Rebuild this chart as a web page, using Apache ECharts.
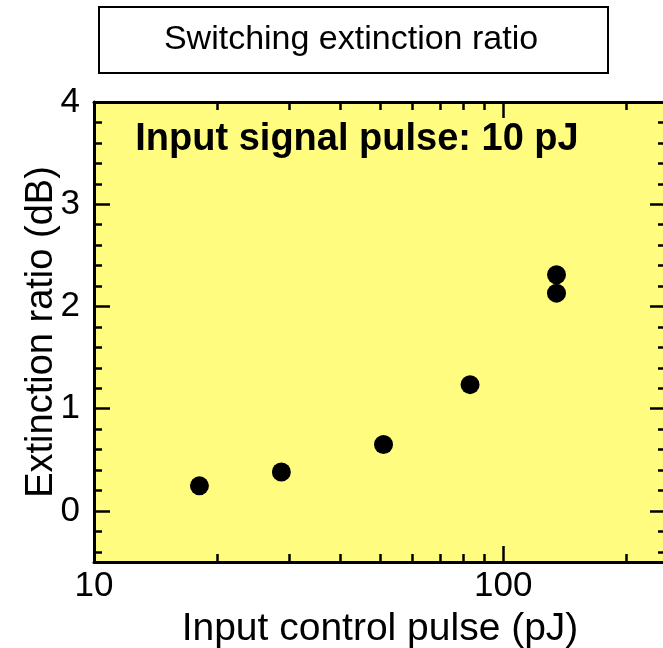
<!DOCTYPE html>
<html>
<head>
<meta charset="utf-8">
<script src="https://cdn.jsdelivr.net/npm/echarts@6/dist/echarts.min.js"></script>
<style>
html,body{margin:0;padding:0;background:#fff;}
#c{width:663px;height:648px;}
</style>
</head>
<body>
<div id="c"></div>
<script>
// Data
const controlPulse = [18.1, 28.7, 51, 83, 135, 135];
const extinctionRatio = [0.245, 0.38, 0.65, 1.235, 2.31, 2.13];
// Tick values
const xMajorTicks = [10, 100];
const xMinorTicks = [20, 30, 40, 50, 60, 70, 80, 90, 200];
const yMajorTicks = [0, 1, 2, 3, 4];
const yMinorTicks = [-0.4, -0.2, 0.2, 0.4, 0.6, 0.8, 1.2, 1.4, 1.6, 1.8, 2.2, 2.4, 2.6, 2.8, 3.2, 3.4, 3.6, 3.8];

const FONT = '"Liberation Sans", Arial, sans-serif';
const AX = {color: '#000', width: 3};
const points = controlPulse.map((x, i) => [x, extinctionRatio[i]]);

function xAx(pos, ticks, len, line, labels, name) {
  return {
    type: 'log', logBase: 10, min: 10, max: 250, position: pos,
    axisLine: {show: line, onZero: false, lineStyle: AX},
    axisTick: {show: true, inside: true, length: len, customValues: ticks, lineStyle: {color: '#000', width: 2.5}},
    axisLabel: labels ? {show: true, customValues: xMajorTicks, fontSize: 35, fontFamily: FONT, color: '#000', margin: 7} : {show: false},
    splitLine: {show: false}, minorTick: {show: false}, minorSplitLine: {show: false},
    name: name || '', nameLocation: 'middle', nameGap: 48,
    nameTextStyle: {fontSize: 39, fontFamily: FONT, color: '#000'}
  };
}
function yAx(pos, ticks, len, line, labels, name) {
  return {
    type: 'value', min: -0.5, max: 4, position: pos,
    axisLine: {show: line, onZero: false, lineStyle: AX},
    axisTick: {show: true, inside: true, length: len, customValues: ticks, lineStyle: {color: '#000', width: 2.5}},
    axisLabel: labels ? {show: true, customValues: yMajorTicks, fontSize: 35, fontFamily: FONT, color: '#000', margin: 14} : {show: false},
    splitLine: {show: false},
    name: name || '', nameLocation: 'middle', nameGap: 33, nameMoveOverlap: false,
    nameTextStyle: {fontSize: 38, fontFamily: FONT, color: '#000'}
  };
}

const chart = echarts.init(document.getElementById('c'), null, {renderer: 'canvas'});
chart.setOption({
  backgroundColor: '#ffffff',
  animation: false,
  grid: {left: 94, top: 102, right: -3, bottom: 86, show: true, backgroundColor: '#fffc80', borderWidth: 0, containLabel: false, outerBoundsMode: 'none'},
  xAxis: [
    xAx('bottom', xMajorTicks, 16, true, true, 'Input control pulse (pJ)'),
    xAx('bottom', xMinorTicks, 8, false, false),
    xAx('top', xMajorTicks, 16, true, false),
    xAx('top', xMinorTicks, 8, false, false)
  ],
  yAxis: [
    yAx('left', yMajorTicks, 16, true, true, 'Extinction ratio (dB)'),
    yAx('left', yMinorTicks, 8, false, false),
    yAx('right', yMajorTicks, 16, true, false),
    yAx('right', yMinorTicks, 8, false, false)
  ],
  graphic: [
    {type: 'rect', shape: {x: 99, y: 7, width: 509, height: 66}, style: {fill: '#fff', stroke: '#000', lineWidth: 2}},
    {type: 'text', x: 351, y: 40, style: {text: 'Switching extinction ratio', fontSize: 34, fontFamily: FONT, fill: '#000', align: 'center', verticalAlign: 'middle'}},
    {type: 'text', x: 357, y: 140, z: 10, style: {text: 'Input signal pulse: 10 pJ', fontSize: 38, fontWeight: 'bold', fontFamily: FONT, fill: '#000', align: 'center', verticalAlign: 'middle'}}
  ],
  series: [{
    type: 'scatter', xAxisIndex: 0, yAxisIndex: 0,
    data: points, symbol: 'circle', symbolSize: 19,
    itemStyle: {color: '#000', opacity: 1}
  }]
});
</script>
</body>
</html>
